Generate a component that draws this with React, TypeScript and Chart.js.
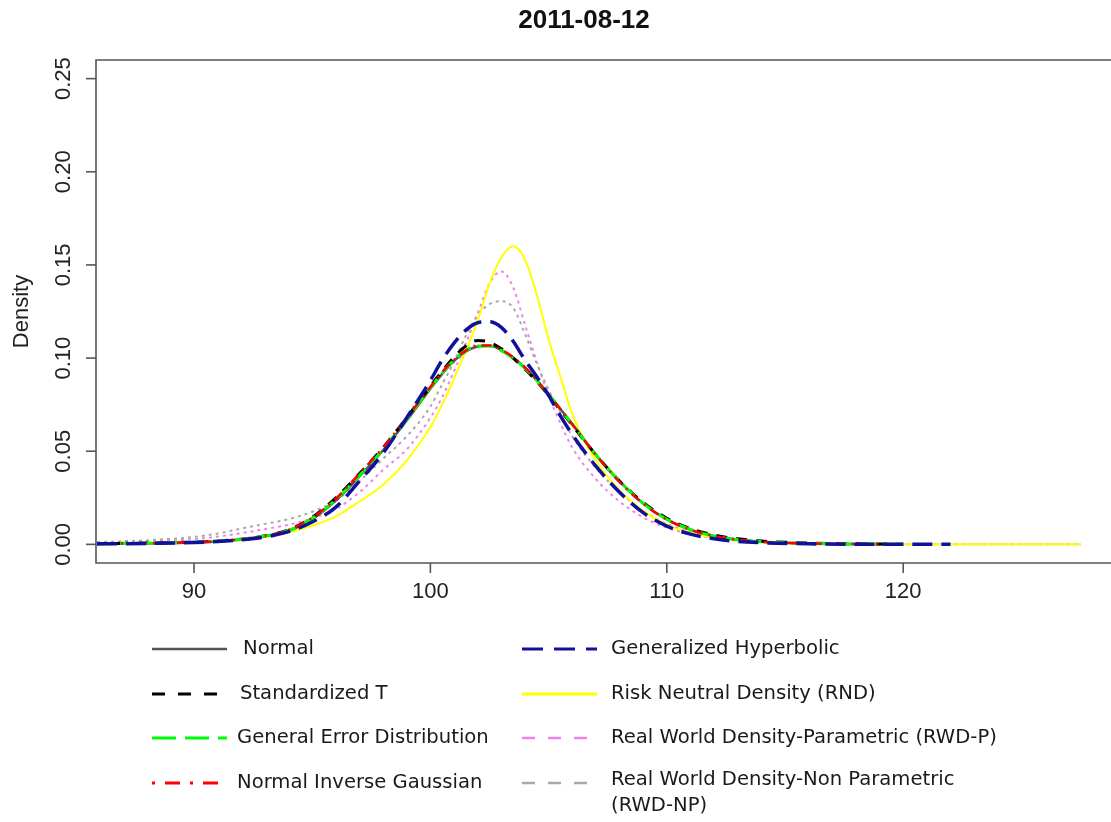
import React, { useEffect, useRef } from 'react';
import { Chart, registerables } from 'chart.js';

Chart.register(...registerables);

// Shared x grid (price level)
const xGrid = [85.9, 88, 90, 91, 92, 93, 94, 95, 96, 97, 98, 99, 100, 100.5, 101, 101.5, 102, 102.5, 103, 103.5, 104, 104.5, 105, 105.5, 106, 107, 108, 109, 110, 111, 112, 113, 114, 116, 118, 120, 122, 124, 126, 127.5];

const normalY = [0.0002, 0.0005, 0.001, 0.0016, 0.0026, 0.0043, 0.0072, 0.0135, 0.0235, 0.0365, 0.0505, 0.0665, 0.0835, 0.0915, 0.0985, 0.1035, 0.1062, 0.1066, 0.1043, 0.1003, 0.0948, 0.0882, 0.0806, 0.0726, 0.0646, 0.0482, 0.0338, 0.022, 0.0134, 0.0079, 0.0045, 0.0025, 0.0014, 0.0005, 0.0002, 0.0001, null, null, null, null];
const stdTY = [0.0004, 0.0007, 0.0012, 0.0018, 0.0028, 0.0046, 0.0078, 0.0145, 0.025, 0.038, 0.052, 0.068, 0.085, 0.093, 0.1005, 0.1065, 0.1095, 0.1085, 0.105, 0.1, 0.094, 0.0875, 0.08, 0.072, 0.064, 0.048, 0.034, 0.0225, 0.014, 0.0085, 0.005, 0.003, 0.0018, 0.0007, 0.0003, 0.0001, null, null, null, null];
const gedY = [0.0003, 0.0006, 0.0012, 0.0018, 0.0028, 0.0045, 0.0075, 0.014, 0.024, 0.037, 0.051, 0.067, 0.084, 0.092, 0.099, 0.104, 0.1065, 0.1065, 0.104, 0.1, 0.0945, 0.088, 0.0805, 0.0725, 0.0645, 0.048, 0.034, 0.022, 0.0135, 0.008, 0.0045, 0.0025, 0.0014, 0.0005, 0.0002, 0.0001, null, null, null, null];
const nigY = [0.0003, 0.0006, 0.0012, 0.0018, 0.0028, 0.0046, 0.0077, 0.0143, 0.0245, 0.038, 0.052, 0.068, 0.0845, 0.0925, 0.099, 0.104, 0.1068, 0.1068, 0.1045, 0.1005, 0.095, 0.088, 0.0805, 0.0725, 0.0645, 0.048, 0.0335, 0.0218, 0.0133, 0.0078, 0.0045, 0.0025, 0.0014, 0.0005, 0.0002, 0.0001, null, null, null, null];
const ghY = [0.0003, 0.0005, 0.001, 0.0015, 0.0025, 0.004, 0.0068, 0.012, 0.02, 0.034, 0.049, 0.068, 0.088, 0.099, 0.108, 0.115, 0.119, 0.1195, 0.1165, 0.109, 0.099, 0.09, 0.08, 0.069, 0.059, 0.042, 0.028, 0.017, 0.0098, 0.0055, 0.003, 0.0016, 0.0009, 0.0003, 0.0001, 0.00005, 0, null, null, null];
const rndY = [0.0003, 0.0006, 0.0012, 0.0018, 0.0027, 0.004, 0.0065, 0.01, 0.015, 0.023, 0.032, 0.045, 0.063, 0.075, 0.089, 0.104, 0.12, 0.14, 0.154, 0.16, 0.153, 0.134, 0.11, 0.09, 0.07, 0.045, 0.029, 0.018, 0.0105, 0.0062, 0.0036, 0.002, 0.0012, 0.0004, 0.0001, 0, 0, 0, 0, 0];
const rwdPY = [0.001, 0.0017, 0.0028, 0.0042, 0.006, 0.0082, 0.0105, 0.014, 0.019, 0.028, 0.04, 0.051, 0.068, 0.079, 0.093, 0.108, 0.124, 0.14, 0.1465, 0.138, 0.118, 0.098, 0.08, 0.065, 0.052, 0.035, 0.023, 0.0145, 0.009, 0.0055, 0.0033, 0.002, 0.0012, 0.0005, 0.0002, 0.0001, 0, 0, 0, 0];
const rwdNPY = [0.0012, 0.0022, 0.004, 0.0058, 0.0085, 0.011, 0.0135, 0.0175, 0.0235, 0.034, 0.046, 0.058, 0.074, 0.086, 0.098, 0.112, 0.123, 0.129, 0.1305, 0.127, 0.113, 0.097, 0.083, 0.07, 0.058, 0.041, 0.028, 0.018, 0.011, 0.0066, 0.004, 0.0024, 0.0014, 0.0005, 0.0002, 0.0001, 0, 0, 0, 0];

const xTicks = [90, 100, 110, 120];
const yTicks = [0, 0.05, 0.1, 0.15, 0.2, 0.25];
const yTickLabels = ['0.00', '0.05', '0.10', '0.15', '0.20', '0.25'];

const titleText = '2011-08-12';
const yTitle = 'Density';

const seriesNames = [
  'Normal',
  'Standardized T',
  'General Error Distribution',
  'Normal Inverse Gaussian',
  'Generalized Hyperbolic',
  'Risk Neutral Density (RND)',
  'Real World Density-Parametric (RWD-P)',
  'Real World Density-Non Parametric',
];

type Sty = { color: string; width: number; dash: number[]; order: number; legDash: number[]; legWidth: number };
const styles: Sty[] = [
  { color: '#555555', width: 2.5, dash: [], order: 5, legDash: [], legWidth: 2.5 },
  { color: '#000000', width: 3, dash: [11, 9], order: 4, legDash: [13, 13], legWidth: 3 },
  { color: '#00ff00', width: 3, dash: [16, 7], order: 3, legDash: [24, 9], legWidth: 3 },
  { color: '#ff0000', width: 2.5, dash: [2, 6, 10, 6], order: 2, legDash: [3, 10, 15, 10], legWidth: 3 },
  { color: '#10109a', width: 3.5, dash: [20, 9], order: 1, legDash: [21, 11], legWidth: 3 },
  { color: '#ffff00', width: 2, dash: [], order: 6, legDash: [], legWidth: 3 },
  { color: '#ee82ee', width: 2, dash: [3, 4], order: 8, legDash: [13, 13], legWidth: 2.5 },
  { color: '#a9a9a9', width: 2, dash: [3, 4], order: 7, legDash: [13, 13], legWidth: 2.5 },
];

const seriesValues = [normalY, stdTY, gedY, nigY, ghY, rndY, rwdPY, rwdNPY];

const decor = {
  id: 'decor',
  afterDraw(chart: any) {
    const { ctx, chartArea: a, scales } = chart;
    const xs = scales.x;
    const ys = scales.y;
    ctx.save();
    ctx.strokeStyle = '#555';
    ctx.lineWidth = 1.6;
    ctx.setLineDash([]);
    ctx.beginPath();
    ctx.moveTo(a.right + 5, a.top);
    ctx.lineTo(a.left, a.top);
    ctx.lineTo(a.left, a.bottom);
    ctx.lineTo(a.right + 5, a.bottom);
    ctx.stroke();

    ctx.fillStyle = '#222';
    ctx.font = '22px "Liberation Sans", Arial, sans-serif';
    yTicks.forEach((v, i) => {
      const py = ys.getPixelForValue(v);
      ctx.beginPath();
      ctx.moveTo(a.left - 10, py);
      ctx.lineTo(a.left, py);
      ctx.stroke();
      ctx.save();
      ctx.translate(64, py);
      ctx.rotate(-Math.PI / 2);
      ctx.textAlign = 'center';
      ctx.textBaseline = 'middle';
      ctx.fillText(yTickLabels[i], 0, 0);
      ctx.restore();
    });
    xTicks.forEach((v) => {
      const px = xs.getPixelForValue(v);
      ctx.beginPath();
      ctx.moveTo(px, a.bottom);
      ctx.lineTo(px, a.bottom + 10);
      ctx.stroke();
      ctx.textAlign = 'center';
      ctx.textBaseline = 'middle';
      ctx.fillText(String(v), px, 592);
    });
    ctx.save();
    ctx.translate(22, (a.top + a.bottom) / 2);
    ctx.rotate(-Math.PI / 2);
    ctx.textAlign = 'center';
    ctx.textBaseline = 'middle';
    ctx.fillText(yTitle, 0, 0);
    ctx.restore();

    ctx.font = 'bold 26px "Liberation Sans", Arial, sans-serif';
    ctx.fillStyle = '#111';
    ctx.textAlign = 'center';
    ctx.textBaseline = 'middle';
    ctx.fillText(titleText, 584, 21);

    const rowsY = [649, 694, 738, 783];
    const leftTextX = [243, 240, 237, 237];
    ctx.font = '19.6px "DejaVu Sans", sans-serif';
    ctx.fillStyle = '#1a1a1a';
    ctx.textAlign = 'left';
    for (let i = 0; i < 8; i++) {
      const col = i < 4 ? 0 : 1;
      const row = i % 4;
      const y = rowsY[row];
      const x0 = col === 0 ? 152 : 522;
      const x1 = col === 0 ? 227 : 597;
      const s = styles[i];
      ctx.strokeStyle = s.color;
      ctx.lineWidth = s.legWidth;
      ctx.setLineDash(s.legDash);
      ctx.beginPath();
      ctx.moveTo(x0, y);
      ctx.lineTo(x1, y);
      ctx.stroke();
      ctx.setLineDash([]);
      const tx = col === 0 ? leftTextX[row] : 611;
      if (i === 7) {
        ctx.fillText(seriesNames[i], tx, 780);
        ctx.fillText('(RWD-NP)', tx, 806);
      } else {
        ctx.fillText(seriesNames[i], tx, y);
      }
    }
    ctx.restore();
  },
};

export default function App() {
  const ref = useRef<HTMLCanvasElement>(null);
  useEffect(() => {
    const canvas = ref.current;
    if (!canvas) return;
    const datasets = seriesValues.map((vals, i) => ({
      label: seriesNames[i],
      data: xGrid.map((x, j) => ({ x, y: vals[j] })),
      borderColor: styles[i].color,
      borderWidth: styles[i].width,
      borderDash: styles[i].dash,
      order: styles[i].order,
      pointRadius: 0,
      fill: false,
      cubicInterpolationMode: 'monotone' as const,
      spanGaps: false,
    }));
    const chart = new Chart(canvas, {
      type: 'line',
      data: { datasets },
      options: {
        responsive: false,
        animation: false,
        devicePixelRatio: 1,
        events: [],
        layout: { padding: { left: 96, top: 60, right: 0, bottom: 259 } },
        scales: {
          x: { type: 'linear', min: 85.855, max: 128.79, display: false },
          y: { type: 'linear', min: -0.01, max: 0.26, display: false },
        },
        plugins: {
          legend: { display: false },
          tooltip: { enabled: false },
          title: { display: false },
        },
      },
      plugins: [decor],
    });
    return () => chart.destroy();
  }, []);
  return (
    <div style={{ position: 'absolute', left: 0, top: 0, width: 1111, height: 822, background: '#fff', overflow: 'hidden' }}>
      <canvas ref={ref} width={1111} height={822} style={{ display: 'block' }} />
    </div>
  );
}
